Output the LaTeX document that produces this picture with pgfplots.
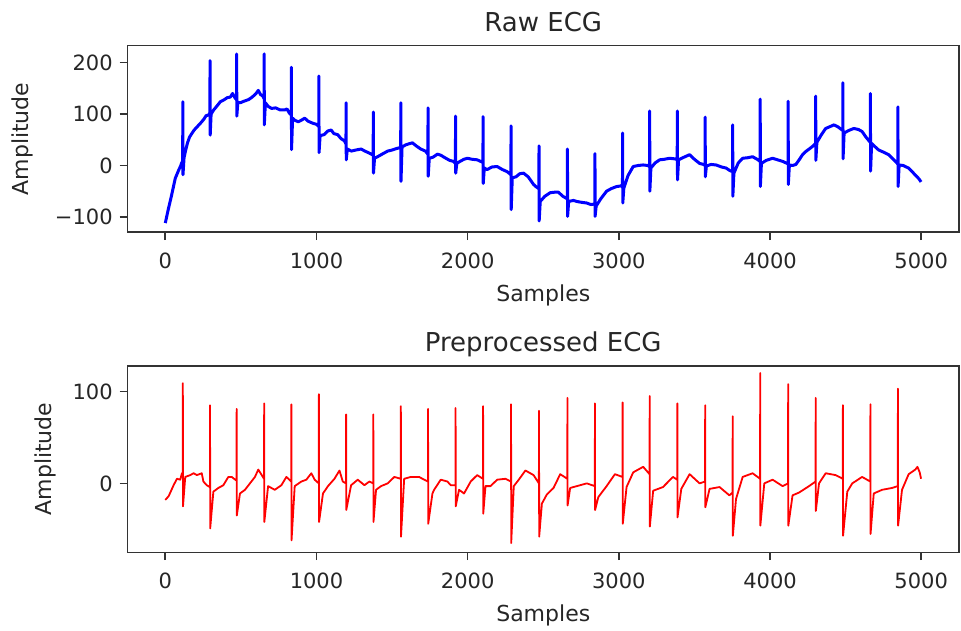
\documentclass[border=0pt]{standalone}
\usepackage{fontspec}
\setmainfont{DejaVu Sans}
\usepackage{pgfplots}
\usepackage{pgfplotstable}
\pgfplotsset{compat=1.18}
\pgfplotstableread{
s v
0 -112
20 -85
40 -60
66 -25
90 -8
100 -2
108 5
115 8
116 124
117 -18
124 15
135 30
147 44
160 55
175 62
191 69
210 75
235 83
255 90
270 97
285 98
295 102
296 204
297 59
303 100
320 108
340 115
364 124
390 128
410 132
430 133
445 140
460 132
471 128
472 217
473 96
480 123
496 122
520 125
550 128
575 133
600 140
615 146
630 138
645 135
653 130
654 217
655 79
662 122
680 115
703 111
730 112
760 108
790 108
805 110
820 102
833 98
834 191
835 31
842 92
856 88
880 85
900 88
922 92
945 86
977 82
1000 80
1015 76
1016 174
1017 25
1024 58
1050 60
1075 67
1097 69
1115 62
1140 60
1163 52
1185 48
1195 42
1196 122
1197 11
1204 32
1230 28
1260 30
1295 32
1320 28
1350 24
1375 20
1376 104
1377 -15
1384 14
1410 18
1440 23
1471 28
1500 30
1530 33
1557 35
1558 122
1559 -31
1566 36
1590 40
1610 42
1635 44
1660 38
1690 32
1720 28
1737 22
1738 112
1739 -21
1746 14
1770 16
1800 22
1822 20
1850 15
1880 10
1905 8
1919 4
1920 96
1921 -15
1928 4
1950 8
1975 12
1998 14
2030 12
2063 11
2085 8
2101 6
2102 95
2103 -35
2110 -5
2129 -8
2160 -3
2195 -2
2230 -8
2261 -12
2286 -18
2287 77
2288 -86
2295 -24
2320 -22
2345 -16
2370 -15
2400 -22
2436 -37
2455 -42
2471 -45
2472 38
2473 -108
2480 -70
2510 -60
2546 -53
2575 -52
2600 -52
2630 -60
2659 -65
2660 32
2661 -99
2668 -70
2700 -68
2721 -70
2760 -72
2787 -73
2815 -76
2841 -75
2842 23
2843 -99
2850 -79
2880 -65
2919 -50
2950 -45
2985 -41
3010 -40
3024 -38
3025 63
3026 -73
3033 -44
3060 -20
3095 -2
3130 0
3160 1
3190 0
3203 -2
3204 106
3205 -50
3212 -5
3240 5
3270 11
3300 12
3336 14
3365 13
3386 12
3387 106
3388 -28
3395 11
3430 16
3468 21
3500 12
3534 4
3560 2
3570 0
3571 94
3572 -22
3579 -1
3610 2
3643 1
3680 -3
3709 -5
3735 -10
3752 -12
3753 79
3754 -60
3761 -15
3790 5
3819 14
3850 15
3885 17
3915 12
3934 8
3935 129
3936 -41
3943 4
3975 10
4017 14
4050 11
4083 8
4105 5
4119 3
4120 125
4121 -37
4128 1
4150 0
4171 2
4195 12
4215 21
4240 28
4259 32
4285 38
4301 43
4302 135
4303 10
4310 45
4340 60
4368 72
4400 76
4423 79
4450 75
4481 68
4482 161
4483 13
4490 63
4520 68
4554 72
4585 70
4609 66
4635 55
4663 45
4664 140
4665 -11
4672 43
4700 35
4719 30
4750 26
4785 21
4815 12
4845 3
4846 114
4847 -41
4854 1
4880 0
4916 -5
4940 -12
4965 -20
4985 -26
4999 -32
}\rawdata
\pgfplotstableread{
s v
0 -18
22 -14
55 -2
77 5
99 4
110 11
115 10
116 109
117 -25
132 7
165 9
187 11
209 9
241 11
252 2
274 -2
295 -4
296 85
297 -49
318 -9
351 -5
384 -2
417 7
439 7
471 3
472 81
473 -35
494 -11
527 -7
560 0
593 7
615 15
653 5
654 87
655 -42
680 -3
724 -7
768 -2
801 7
833 2
834 86
835 -62
856 -3
900 2
933 4
966 11
988 4
1015 0
1016 97
1017 -42
1043 -11
1076 -3
1119 5
1152 14
1174 2
1195 0
1196 75
1197 -29
1229 -2
1273 4
1317 -2
1350 2
1375 0
1376 75
1377 -42
1394 -7
1427 -3
1471 0
1515 7
1557 5
1558 84
1559 -58
1580 5
1624 7
1679 7
1701 5
1737 2
1738 81
1739 -44
1767 -11
1778 -7
1822 4
1866 2
1888 -2
1919 -2
1920 82
1921 -25
1943 -7
1976 -11
2020 2
2063 9
2101 5
2102 84
2103 -33
2118 -3
2151 -3
2195 4
2250 5
2286 2
2287 86
2288 -65
2305 -3
2338 4
2382 14
2436 9
2471 0
2472 79
2473 -58
2491 -22
2524 -12
2568 -5
2612 10
2659 5
2660 93
2661 -24
2678 -5
2722 -3
2788 0
2841 -3
2842 87
2843 -29
2864 -15
2919 -3
2974 10
3024 7
3025 88
3026 -44
3051 -4
3095 12
3161 18
3203 10
3204 95
3205 -47
3227 -8
3292 -4
3358 7
3386 4
3387 87
3388 -37
3413 -6
3468 10
3534 0
3570 2
3571 85
3572 -26
3600 -6
3666 -4
3731 -13
3752 -10
3753 73
3754 -57
3775 -17
3819 7
3885 11
3934 5
3935 120
3936 -46
3962 0
4017 4
4083 -3
4119 0
4120 108
4121 -46
4149 -13
4192 -10
4258 -3
4301 2
4302 93
4303 -30
4324 0
4368 11
4434 9
4481 5
4482 85
4483 -57
4511 -9
4544 0
4609 7
4663 2
4664 86
4665 -55
4686 -11
4741 -7
4807 -5
4845 -3
4846 103
4847 -46
4873 -7
4917 10
4961 15
4975 18
4990 12
4999 5
}\procdata
\definecolor{frame}{gray}{0.2}
\pgfplotsset{
  ecg/.style={
    scale only axis, width=415.75pt, height=93.3pt,
    anchor=north west,
    xmin=-250, xmax=5250,
    axis line style={frame, line width=0.8pt},
    every tick/.style={frame, line width=0.8pt},
    tick align=outside, major tick length=3.9pt,
    tick pos=left,
    xtick={0,1000,2000,3000,4000,5000},
    xticklabels={0,1000,2000,3000,4000,5000},
    ticklabel style={font=\fontsize{10.5}{12}\selectfont, text=black!85},
    xticklabel style={yshift=-3pt},
    label style={font=\fontsize{11}{13}\selectfont, text=black!85},
    xlabel style={yshift=-0.8pt},
    title style={font=\fontsize{13}{15}\selectfont, text=black!85, text depth=0pt, yshift=-2.5pt},
    /pgf/number format/assume math mode=true,
    xlabel={Samples}, ylabel={Amplitude},
  }
}
\begin{document}
\begin{tikzpicture}
\useasboundingbox (0pt,0pt) rectangle (480.5pt,-315pt);
\begin{axis}[ecg, at={(63.75pt,-22.85pt)},
  ymin=-130, ymax=233,
  ytick={-100,0,100,200}, yticklabels={−100,0,100,200},
  ylabel shift=4pt,
  title={Raw ECG}]
\addplot[blue, line width=1.5pt, line join=round] table[x=s,y=v]{\rawdata};
\end{axis}
\begin{axis}[ecg, at={(63.75pt,-182.85pt)},
  ymin=-75, ymax=128,
  ytick={0,100}, yticklabels={0,100},
  ylabel shift=1.5pt,
  title={Preprocessed ECG}]
\addplot[red, line width=0.9pt, line join=round] table[x=s,y=v]{\procdata};
\end{axis}
\end{tikzpicture}
\end{document}
